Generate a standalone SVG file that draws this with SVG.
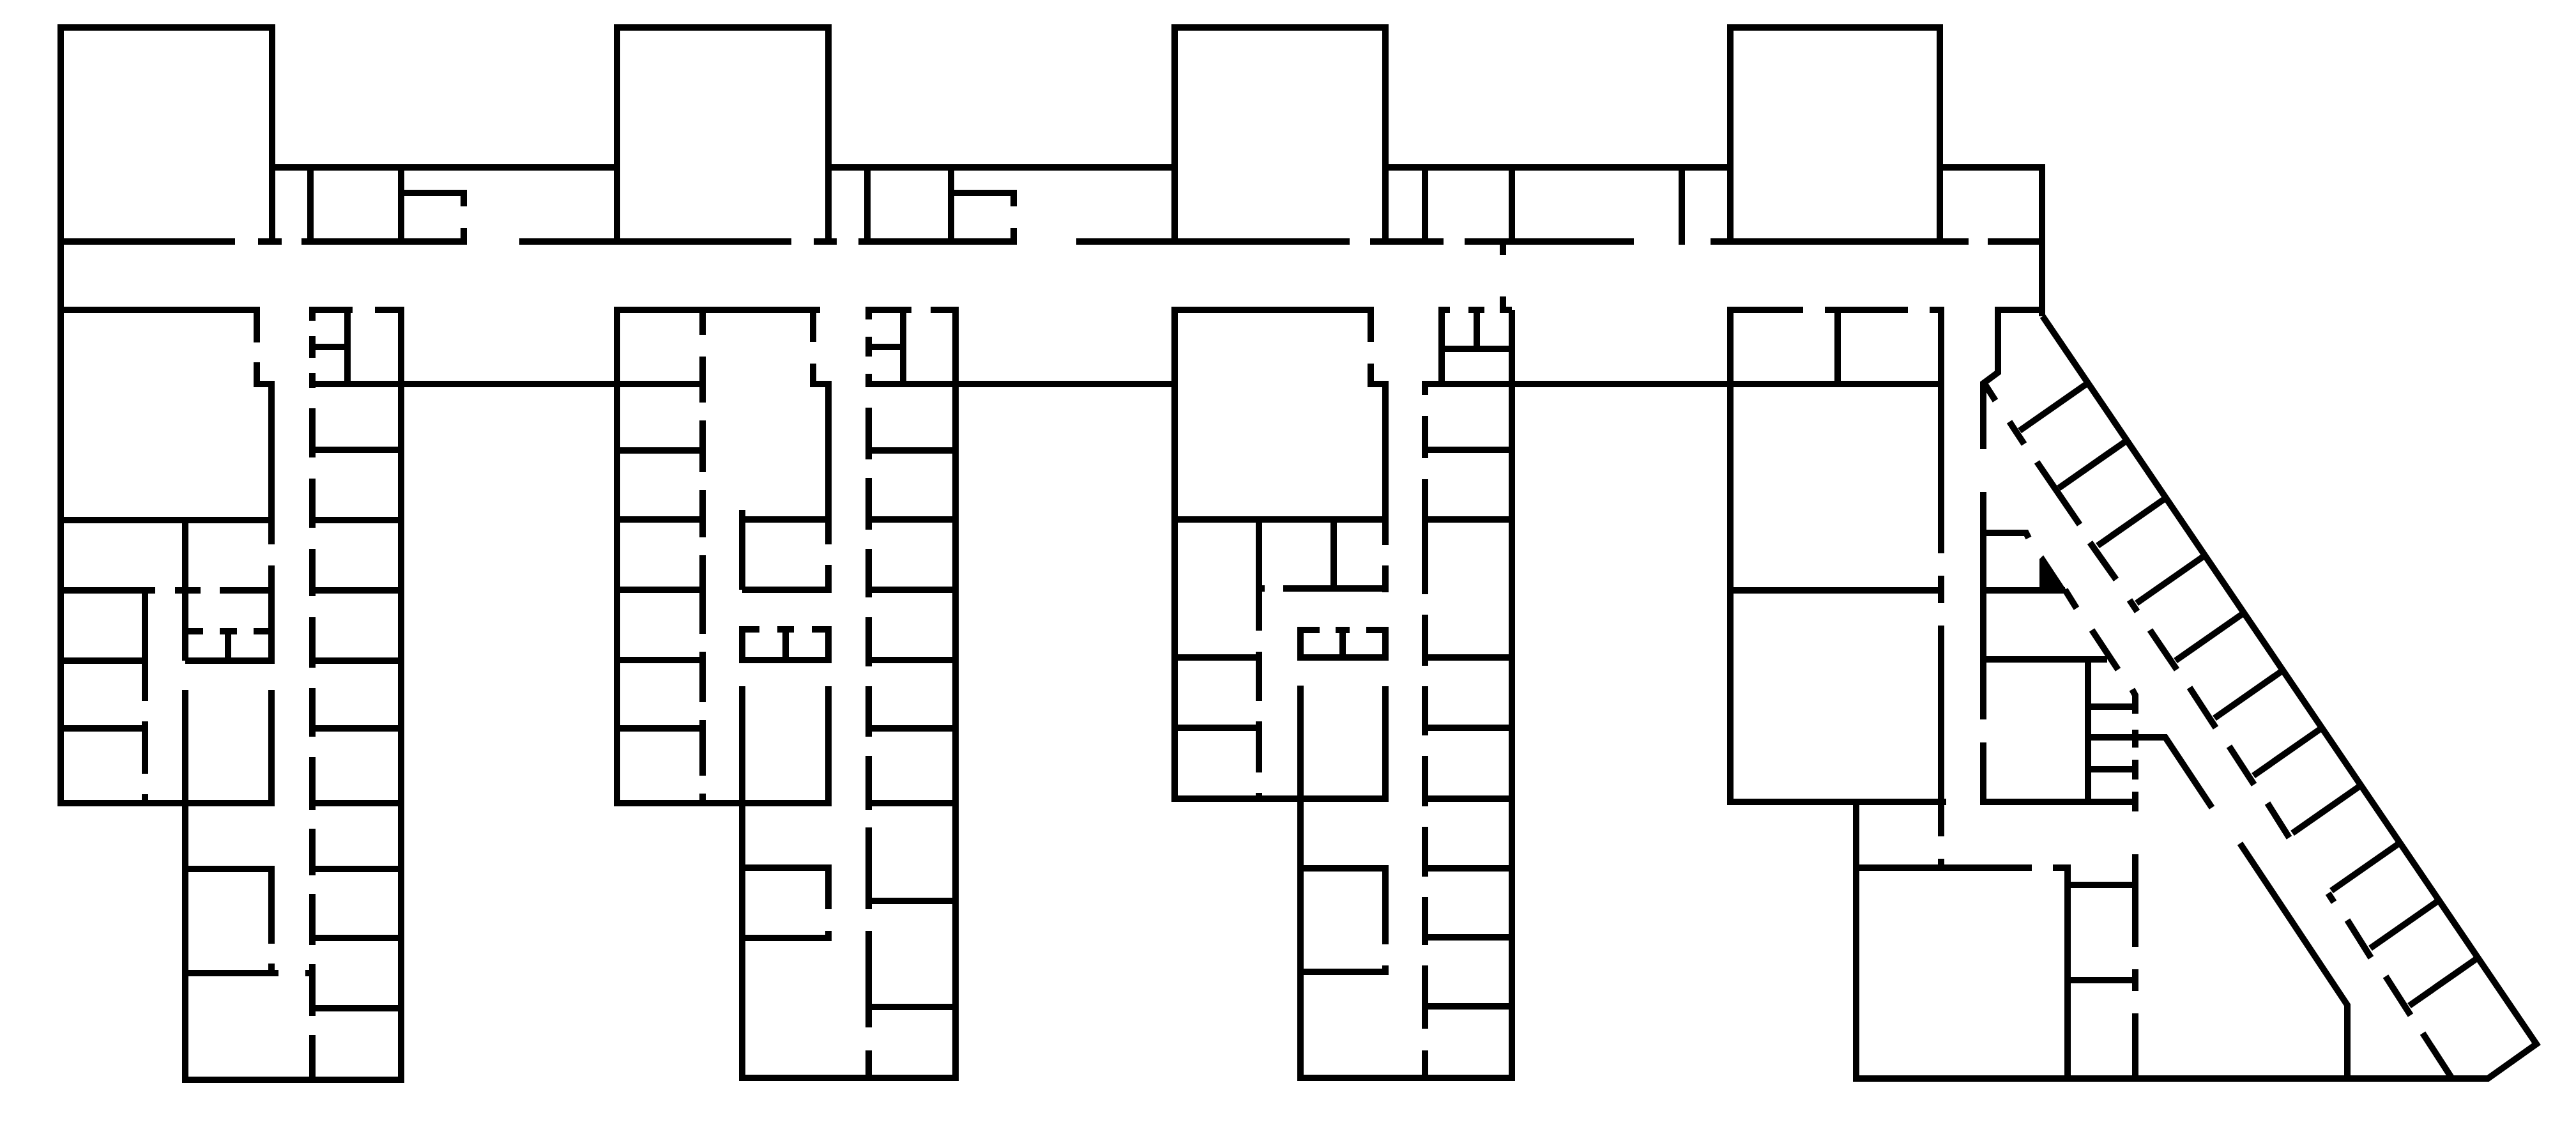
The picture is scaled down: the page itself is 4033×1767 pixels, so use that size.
<svg xmlns="http://www.w3.org/2000/svg" width="4033" height="1767" viewBox="0 0 4033 1767">
<style>
.w{fill:none;stroke:#000;stroke-width:10;stroke-linecap:butt;stroke-linejoin:miter}
.t{fill:#000;stroke:none}
</style>
<rect width="4033" height="1767" fill="#fff"/>
<g id="corridor-spine">
<path class="w" d="M426 262H966M1297 262H1839M2169 262H2709M3037 262H3197V495"/>
<path class="w" d="M628 601H966M1496 601H1839M2367 601H2709"/>
</g>
<g id="wing-1">
<path class="w" d="M95 1262V43H426V378"/>
<path class="w" d="M95 378H368M404 378H441M472 378H731M726 378V357M486 262V378M628 262V378M726 323V302H628"/>
<path class="w" d="M95 485H402V536M402 567V601H425V852M425 885V1034M95 814H425M290 814V1034M290 1080V1695"/>
<path class="w" d="M95 924H243M274 924H314M344 924H425M227 924V1097M227 1129V1211M227 1243V1257M95 1034H227M95 1140H227M90 1257H430M290 988H318M344 988H371M397 988H425M357 988V1034M290 1034H430M425 1080V1262"/>
<path class="w" d="M290 1360H425V1477M425 1508V1523M290 1523H436M478 1523H489M285 1690H633"/>
<path class="w" d="M489 480V502M489 526V560M489 584V607M489 639V716M489 749V826M489 859V933M489 966V1045M489 1077V1153M489 1185V1268M489 1297V1370M489 1399V1479M489 1509V1590M489 1620V1690"/>
<path class="w" d="M484 485H552M587 485H628V1695M544 485V601M489 543H544M489 601H628M489 704H628M489 814H628M489 924H628M489 1034H628M489 1140H628M489 1257H628M489 1360H628M489 1468H628M489 1578H628"/>
</g>
<g id="wing-2">
<path class="w" d="M966 378V43H1297V378M966 1262V480"/>
<path class="w" d="M813 378H1239M1274 378H1310M1344 378H1592M1587 378V357M1358 262V378M1489 262V378M1587 323V302H1489"/>
<path class="w" d="M966 485H1284M1273 485V535M1273 569V601H1297V852M1297 884V928M1100 490V524M1100 558V630M1100 658V739M1100 767V841M1100 869V992M1100 1020V1099M1100 1127V1214M1100 1242V1257"/>
<path class="w" d="M966 601H1100M966 705H1100M966 813H1100M966 923H1100M966 1033H1100M966 1140H1100M961 1257H1302"/>
<path class="w" d="M1162 798V923M1162 813H1297M1162 923H1297M1162 1033V985H1189M1217 985H1243M1271 985H1297V1038M1157 1033H1297M1230 985V1033M1162 1074V1692M1297 1074V1257M1162 1358H1297V1423M1297 1457V1473M1162 1468H1297M1157 1687H1501"/>
<path class="w" d="M1360 480V500M1360 527V558M1360 585V606M1360 638V719M1360 748V829M1360 859V935M1360 966V1043M1360 1074V1153M1360 1183V1268M1360 1295V1423M1360 1457V1608M1360 1644V1687"/>
<path class="w" d="M1355 485H1427M1457 485H1496V1692M1414 485V601M1360 543H1414M1360 601H1496M1360 705H1496M1360 813H1496M1360 923H1496M1360 1033H1496M1360 1140H1496M1360 1257H1496M1360 1410H1496M1360 1576H1496"/>
</g>
<g id="wing-3">
<path class="w" d="M1839 378V43H2169V378M1839 1255V480"/>
<path class="w" d="M1685 378H2113M2145 378H2260M2293 378H2558M2231 262V378M2367 262V378M2353 378V399M2353 464V485H2367"/>
<path class="w" d="M1839 485H2151M2146 485V535M2146 569V601H2169V853M2169 885V927M2009 921H2169M1971 921H1980M2088 813V921M1971 813V987M1971 1020V1097M1971 1129V1209M1971 1241V1250"/>
<path class="w" d="M1839 813H2169M1839 1029H1971M1839 1139H1971M1834 1250H2174M2036 1034V986H2066M2091 986H2113M2139 986H2169V1034M2036 1029H2169M2102 986V1029M2036 1073V1692M2169 1074V1250M2036 1359H2169V1478M2169 1511V1526M2036 1521H2169M2031 1687H2372"/>
<path class="w" d="M2231 596V618M2231 651V717M2231 750V930M2231 962V1042M2231 1074V1151M2231 1183V1262M2231 1294V1372M2231 1404V1479M2231 1511V1610M2231 1644V1687"/>
<path class="w" d="M2226 601H2367M2257 601V485H2270M2299 485H2324M2312 485V546M2257 546H2367M2367 485V1692M2231 704H2367M2231 813H2367M2231 1029H2367M2231 1139H2367M2231 1250H2367M2231 1359H2367M2231 1467H2367M2231 1575H2367"/>
</g>
<g id="wing-4">
<path class="w" d="M2709 378V43H3037V378M2709 1260V480"/>
<path class="w" d="M2678 378H3082M3112 378H3197M2633 262V383"/>
<path class="w" d="M2704 485H2823M2857 485H2987M3021 485H3039V866M3039 901V944M3039 979V1309M3039 1344V1358M2877 485V601M2709 601H3039M2709 924H3039M2704 1255H3047M2906 1255V1693M2901 1358H3181M3214 1358H3237V1688M2901 1688H3895L3971 1634L3198 495"/>
<path class="w" d="M3197 485H3128V583L3105 600V703M3105 770V1126M3105 1162V1255M3105 834H3172L3176 842M3105 924H3233M3105 1032H3299M3269 1032V1257M3100 1255H3343M3269 1106H3343M3269 1154H3390L3463 1264M3269 1204H3343M3237 1385H3343M3237 1534H3343M3507 1320L3675 1573V1688"/>
<path class="w" d="M3338 1079L3343 1088V1117M3343 1142V1170M3343 1189V1220M3343 1239V1270M3343 1337V1482M3343 1517V1551M3343 1586V1688"/>
<path class="w" d="M3233 923L3251 952M3275 986L3316 1048"/>
<polygon class="t" points="3193,875 3199,869 3236,925 3193,925"/>
<path class="w" d="M3108 602L3124 627M3146 660L3169 695M3189 723L3256 821M3272 849L3313 907M3334 939L3346 957M3366 986L3408 1048M3428 1076L3469 1139M3490 1168L3529 1228M3550 1257L3584 1311M3645 1398L3654 1412M3675 1440L3712 1499M3735 1528L3774 1589M3793 1617L3839 1688"/>
<path class="w" d="M3268 600L3162 674M3329 690L3223 764M3390 780L3284 854M3451 870L3345 944M3512 960L3406 1034M3573 1050L3467 1124M3634 1140L3528 1214M3695 1230L3589 1304M3756 1320L3650 1394M3817 1410L3711 1484M3878 1500L3772 1574"/>
</g>
</svg>
